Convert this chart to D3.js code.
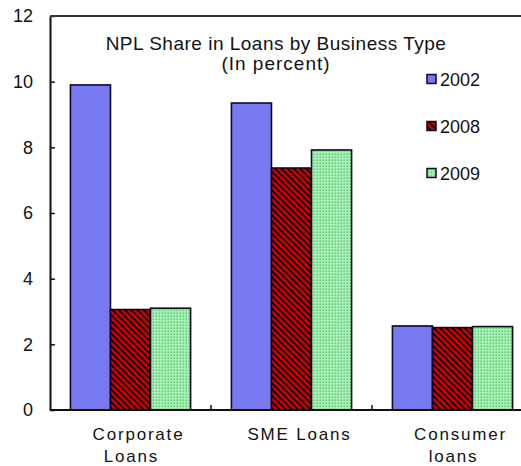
<!DOCTYPE html>
<html>
<head>
<meta charset="utf-8">
<script src="https://cdn.jsdelivr.net/npm/d3@7"></script>
<style>
 body { margin: 0; background: #fff; }
 text { font-family: "Liberation Sans", Arial, sans-serif; fill: #111; }
</style>
</head>
<body>
<svg id="chart" width="521" height="466"></svg>
<script>
 // data
 const categories = ['Corporate Loans', 'SME Loans', 'Consumer loans'];
 const categoryLines = [['Corporate', 'Loans'], ['SME Loans'], ['Consumer', 'loans']];
 const years = ['2002', '2008', '2009'];
 const v2002 = [9.9, 9.35, 2.56];
 const v2008 = [3.06, 7.37, 2.51];
 const v2009 = [3.1, 7.92, 2.54];
 const yTicks = [0, 2, 4, 6, 8, 10, 12];
 const titleLines = ['NPL Share in Loans by Business Type', '(In percent)'];

 const series = [v2002, v2008, v2009];
 const rows = categories.map((c, i) => ({cat: c, vals: years.map((y, j) => ({year: y, v: series[j][i]}))}));

 const svg = d3.select('#chart');
 const defs = svg.append('defs');

 // red with black diagonal hatch
 const hatch = defs.append('pattern')
   .attr('id', 'hatch').attr('patternUnits', 'userSpaceOnUse')
   .attr('width', 4.4).attr('height', 4.4)
   .attr('patternTransform', 'rotate(-45)');
 hatch.append('rect').attr('width', 4.4).attr('height', 4.4).attr('fill', '#c80404');
 hatch.append('rect').attr('width', 1.9).attr('height', 4.4).attr('fill', '#1a0000');

 // light green with small dots
 const dots = defs.append('pattern')
   .attr('id', 'dots').attr('patternUnits', 'userSpaceOnUse')
   .attr('width', 3).attr('height', 3);
 dots.append('rect').attr('width', 3).attr('height', 3).attr('fill', '#a6f2b4');
 dots.append('rect').attr('x', 0.5).attr('y', 0.5).attr('width', 1.4).attr('height', 1.4).attr('fill', '#5fbf70');

 const fills = {'2002': '#7878f0', '2008': 'url(#hatch)', '2009': 'url(#dots)'};

 const x0 = d3.scaleBand().domain(categories).range([50, 533]);
 const x1 = d3.scaleBand().domain(years).range([0, x0.bandwidth()]).paddingOuter(0.51);
 const y = d3.scaleLinear().domain([0, 12]).range([410, 16]);

 // bars
 svg.append('g').selectAll('g').data(rows).join('g')
   .attr('transform', d => `translate(${x0(d.cat)},0)`)
   .selectAll('rect').data(d => d.vals).join('rect')
   .attr('x', d => x1(d.year))
   .attr('y', d => y(d.v))
   .attr('width', x1.bandwidth())
   .attr('height', d => y(0) - y(d.v))
   .attr('fill', d => fills[d.year])
   .attr('stroke', '#0a0a20')
   .attr('stroke-width', 1.6);

 // y axis with inward ticks
 const yAxis = svg.append('g').attr('transform', 'translate(50,0)')
   .call(d3.axisLeft(y).tickValues(yTicks).tickSizeInner(-5).tickSizeOuter(0).tickPadding(17));
 yAxis.select('.domain').attr('stroke', '#111').attr('stroke-width', 2);
 yAxis.selectAll('.tick line').attr('stroke', '#111').attr('stroke-width', 1.5);
 yAxis.selectAll('.tick text').attr('font-size', 18).attr('font-family', '"Liberation Sans", Arial, sans-serif').attr('fill', '#111');

 // baseline and top border
 svg.append('line').attr('x1', 50).attr('x2', 533).attr('y1', y(0)).attr('y2', y(0))
   .attr('stroke', '#111').attr('stroke-width', 2);
 svg.append('line').attr('x1', 50).attr('x2', 533).attr('y1', y(12)).attr('y2', y(12))
   .attr('stroke', '#333').attr('stroke-width', 1.8);

 // category separator ticks
 svg.append('g').selectAll('line').data(categories.slice(1)).join('line')
   .attr('x1', d => x0(d)).attr('x2', d => x0(d))
   .attr('y1', y(0)).attr('y2', y(0) - 5)
   .attr('stroke', '#111').attr('stroke-width', 1.5);

 // category labels
 const lab = svg.append('g').selectAll('text').data(categoryLines).join('text')
   .attr('text-anchor', 'middle').attr('font-size', 17).attr('letter-spacing', 1.8);
 lab.selectAll('tspan').data((d, i) => d.map((t, k) => ({t, k, i}))).join('tspan')
   .attr('x', d => x0(categories[d.i]) + x0.bandwidth() / 2 + (d.k === 0 ? 8 : 1))
   .attr('y', d => 440 + d.k * 21.5)
   .text(d => d.t);

 // title
 svg.append('g').selectAll('text').data(titleLines).join('text')
   .attr('x', 276).attr('y', (d, i) => 49.5 + i * 20.5)
   .attr('text-anchor', 'middle').attr('font-size', 19)
   .attr('letter-spacing', (d, i) => i === 0 ? 0.5 : 1)
   .text(d => d);

 // legend
 const leg = svg.append('g').selectAll('g').data(years).join('g')
   .attr('transform', (d, i) => `translate(427,${74.5 + i * 47})`);
 leg.append('rect').attr('width', 9).attr('height', 9)
   .attr('fill', d => fills[d]).attr('stroke', '#0a0a20').attr('stroke-width', 1.5);
 leg.append('text').attr('x', 13).attr('y', 11.5).attr('font-size', 18).text(d => d);
</script>
</body>
</html>
